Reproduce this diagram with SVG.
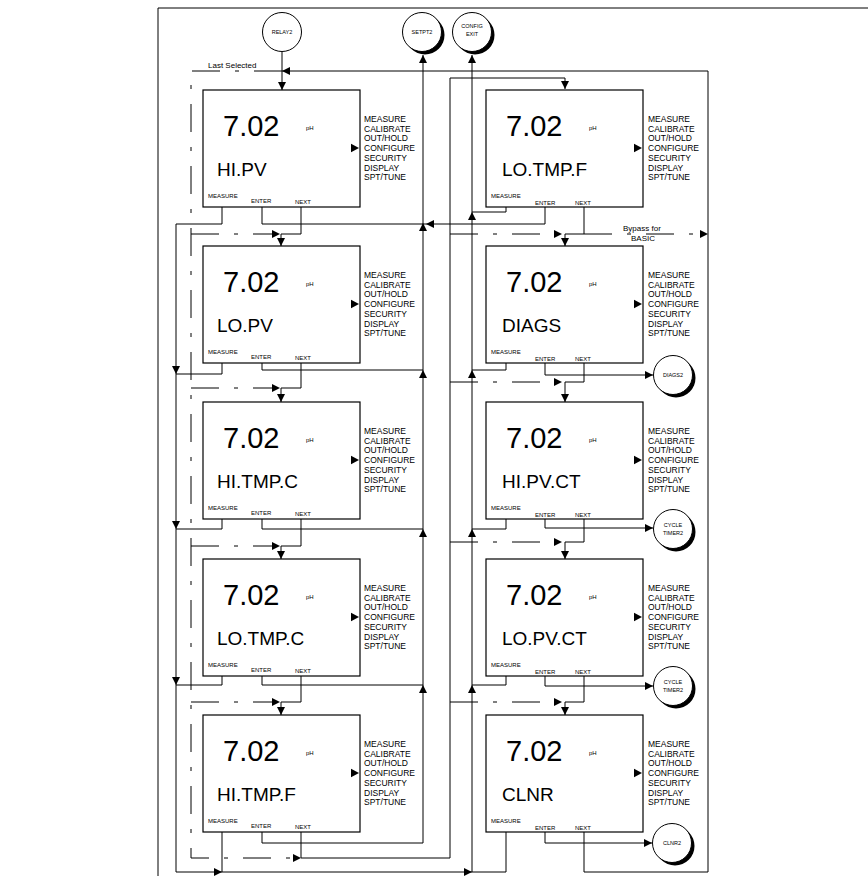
<svg xmlns="http://www.w3.org/2000/svg" xmlns:xlink="http://www.w3.org/1999/xlink" width="868" height="876" viewBox="0 0 868 876">
<style>
text{font-family:"Liberation Sans",Arial,sans-serif;fill:#000}
.box{fill:#fff;stroke:#000;stroke-width:1.2}
.big{font-size:29px}
.lbl{font-size:19px}
.ph{font-size:6px}
.menu{font-size:8.5px}
.key{font-size:6px}
.cl{font-size:5.5px;text-anchor:middle}
.ln{fill:none;stroke:#000;stroke-width:1}
.dd{fill:none;stroke:#000;stroke-width:1;stroke-dasharray:28 15 4 15}
.circ{fill:#fff;stroke:#000;stroke-width:1}
.sh{fill:#000}
.note{font-size:8px}
</style>
<defs>
<path id="ah" d="M0,0 L-8,-4 L-8,4 Z" fill="#000"/>
<path id="tri" d="M0,-4.3 L8,0 L0,4.3 Z" fill="#000"/>
</defs>

<g id="frame">
<line class="ln" x1="158" y1="8" x2="868" y2="8"/>
<line class="ln" x1="158" y1="8" x2="158" y2="876"/>
</g>

<g id="connectors">
<path class="ln" d="M708,872 V71 H282"/>
<use xlink:href="#ah" transform="translate(282,71) rotate(180)"/>
<path class="dd" d="M282,71 H191 V858 H293"/>
<text class="note" x="208" y="68">Last Selected</text>
<path class="ln" d="M282,52 V90"/>
<use xlink:href="#ah" transform="translate(282,90) rotate(90)"/>

<path class="ln" d="M222,207 V224 H176 V872 H472"/>
<path class="ln" d="M222,363 V374 H176"/>
<path class="ln" d="M222,519 V529 H176"/>
<path class="ln" d="M222,676 V685 H176"/>
<path class="ln" d="M222,832 V872"/>
<use xlink:href="#ah" transform="translate(176,374) rotate(90)"/>
<use xlink:href="#ah" transform="translate(176,529) rotate(90)"/>
<use xlink:href="#ah" transform="translate(176,685) rotate(90)"/>
<use xlink:href="#ah" transform="translate(222,872)"/>
<use xlink:href="#ah" transform="translate(472,872)"/>

<path class="ln" d="M262,207 V224 H545 V207"/>
<path class="ln" d="M262,363 V370 H423"/>
<path class="ln" d="M262,519 V529 H423"/>
<path class="ln" d="M262,676 V685 H423"/>
<path class="ln" d="M262,832 V843 H423 V55"/>
<use xlink:href="#ah" transform="translate(423,223) rotate(-90)"/>
<use xlink:href="#ah" transform="translate(426,224) rotate(180)"/>
<use xlink:href="#ah" transform="translate(423,370) rotate(-90)"/>
<use xlink:href="#ah" transform="translate(423,529) rotate(-90)"/>
<use xlink:href="#ah" transform="translate(423,685) rotate(-90)"/>
<use xlink:href="#ah" transform="translate(423,55) rotate(-90)"/>

<path class="ln" d="M301,207 V234 H281 V246"/>
<path class="ln" d="M301,363 V388 H281 V402"/>
<path class="ln" d="M301,519 V546 H281 V559"/>
<path class="ln" d="M301,676 V702 H281 V715"/>
<path class="ln" d="M301,832 V858 H450 V78 H565 V89"/>
<use xlink:href="#ah" transform="translate(281,246) rotate(90)"/>
<use xlink:href="#ah" transform="translate(281,402) rotate(90)"/>
<use xlink:href="#ah" transform="translate(281,559) rotate(90)"/>
<use xlink:href="#ah" transform="translate(281,715) rotate(90)"/>
<use xlink:href="#ah" transform="translate(565,89) rotate(90)"/>
<use xlink:href="#ah" transform="translate(301,858)"/>
<path class="dd" d="M191,234 H273"/>
<path class="dd" d="M191,388 H273"/>
<path class="dd" d="M191,546 H273"/>
<path class="dd" d="M191,702 H273"/>
<use xlink:href="#ah" transform="translate(280,234)"/>
<use xlink:href="#ah" transform="translate(280,388)"/>
<use xlink:href="#ah" transform="translate(280,546)"/>
<use xlink:href="#ah" transform="translate(280,702)"/>

<path class="ln" d="M506,207 V212 H472"/>
<path class="ln" d="M506,363 V370 H472"/>
<path class="ln" d="M506,519 V529 H472"/>
<path class="ln" d="M506,676 V685 H472"/>
<path class="ln" d="M506,832 V872 H472 V55"/>
<use xlink:href="#ah" transform="translate(472,212) rotate(-90)"/>
<use xlink:href="#ah" transform="translate(472,370) rotate(-90)"/>
<use xlink:href="#ah" transform="translate(472,529) rotate(-90)"/>
<use xlink:href="#ah" transform="translate(472,685) rotate(-90)"/>
<use xlink:href="#ah" transform="translate(472,55) rotate(-90)"/>

<path class="ln" d="M545,363 V375 H653"/>
<path class="ln" d="M545,519 V528 H653"/>
<path class="ln" d="M545,676 V686 H653"/>
<path class="ln" d="M545,832 V843 H652"/>
<use xlink:href="#ah" transform="translate(653,375)"/>
<use xlink:href="#ah" transform="translate(653,528)"/>
<use xlink:href="#ah" transform="translate(653,686)"/>
<use xlink:href="#ah" transform="translate(652,843)"/>

<path class="ln" d="M584,207 V234 H565 V246"/>
<path class="ln" d="M584,363 V382 H565 V402"/>
<path class="ln" d="M584,519 V542 H565 V559"/>
<path class="ln" d="M584,676 V702 H565 V715"/>
<path class="ln" d="M584,832 V872 H708"/>
<use xlink:href="#ah" transform="translate(565,246) rotate(90)"/>
<use xlink:href="#ah" transform="translate(565,402) rotate(90)"/>
<use xlink:href="#ah" transform="translate(565,559) rotate(90)"/>
<use xlink:href="#ah" transform="translate(565,715) rotate(90)"/>
<path class="dd" d="M450,234 H555"/>
<path class="dd" d="M450,382 H555"/>
<path class="dd" d="M450,542 H555"/>
<path class="dd" d="M450,702 H555"/>
<use xlink:href="#ah" transform="translate(562,234)"/>
<use xlink:href="#ah" transform="translate(562,382)"/>
<use xlink:href="#ah" transform="translate(562,542)"/>
<use xlink:href="#ah" transform="translate(562,702)"/>
<path class="dd" d="M584,234 H700"/>
<use xlink:href="#ah" transform="translate(708,234)"/>
<text class="note" x="623" y="231">Bypass for</text>
<text class="note" x="631" y="241">BASIC</text>
</g>

<g id="relay2">
<circle class="circ" cx="282" cy="32" r="19.5"/>
<text class="cl" x="282" y="34">RELAY2</text>
</g>
<g id="setpt2">
<circle class="sh" cx="425" cy="35" r="19.5"/>
<circle class="circ" cx="422" cy="32" r="19.5"/>
<text class="cl" x="422" y="34">SETPT2</text>
</g>
<g id="config-exit">
<circle class="sh" cx="475" cy="35" r="19.5"/>
<circle class="circ" cx="472" cy="32" r="19.5"/>
<text class="cl" x="472" y="28">CONFIG</text>
<text class="cl" x="472" y="36">EXIT</text>
</g>
<g id="diags2">
<circle class="sh" cx="676" cy="378" r="19.5"/>
<circle class="circ" cx="673" cy="375" r="19.5"/>
<text class="cl" x="673" y="377">DIAGS2</text>
</g>
<g id="cycle-timer2-a">
<circle class="sh" cx="676" cy="532" r="19.5"/>
<circle class="circ" cx="673" cy="529" r="19.5"/>
<text class="cl" x="673" y="527">CYCLE</text>
<text class="cl" x="673" y="535">TIMER2</text>
</g>
<g id="cycle-timer2-b">
<circle class="sh" cx="676" cy="689" r="19.5"/>
<circle class="circ" cx="673" cy="686" r="19.5"/>
<text class="cl" x="673" y="684">CYCLE</text>
<text class="cl" x="673" y="692">TIMER2</text>
</g>
<g id="clnr2">
<circle class="sh" cx="675" cy="846" r="19.5"/>
<circle class="circ" cx="672" cy="843" r="19.5"/>
<text class="cl" x="672" y="845">CLNR2</text>
</g>

<g id="hi-pv" transform="translate(203,90)">
<rect class="box" width="157" height="117"/>
<text class="big" x="20" y="46">7.02</text><text class="ph" x="103" y="40">pH</text>
<text class="lbl" x="14" y="86">HI.PV</text>
<use xlink:href="#tri" transform="translate(148,58)"/>
<text class="menu" x="161" y="32">MEASURE<tspan x="161" dy="9.7">CALIBRATE</tspan><tspan x="161" dy="9.7">OUT/HOLD</tspan><tspan x="161" dy="9.7">CONFIGURE</tspan><tspan x="161" dy="9.7">SECURITY</tspan><tspan x="161" dy="9.7">DISPLAY</tspan><tspan x="161" dy="9.7">SPT/TUNE</tspan></text>
<text class="key" x="5" y="108">MEASURE</text><text class="key" x="48" y="113">ENTER</text><text class="key" x="92" y="114">NEXT</text>
</g>
<g id="lo-pv" transform="translate(203,246)">
<rect class="box" width="157" height="117"/>
<text class="big" x="20" y="46">7.02</text><text class="ph" x="103" y="40">pH</text>
<text class="lbl" x="14" y="86">LO.PV</text>
<use xlink:href="#tri" transform="translate(148,58)"/>
<text class="menu" x="161" y="32">MEASURE<tspan x="161" dy="9.7">CALIBRATE</tspan><tspan x="161" dy="9.7">OUT/HOLD</tspan><tspan x="161" dy="9.7">CONFIGURE</tspan><tspan x="161" dy="9.7">SECURITY</tspan><tspan x="161" dy="9.7">DISPLAY</tspan><tspan x="161" dy="9.7">SPT/TUNE</tspan></text>
<text class="key" x="5" y="108">MEASURE</text><text class="key" x="48" y="113">ENTER</text><text class="key" x="92" y="114">NEXT</text>
</g>
<g id="hi-tmp-c" transform="translate(203,402)">
<rect class="box" width="157" height="117"/>
<text class="big" x="20" y="46">7.02</text><text class="ph" x="103" y="40">pH</text>
<text class="lbl" x="14" y="86">HI.TMP.C</text>
<use xlink:href="#tri" transform="translate(148,58)"/>
<text class="menu" x="161" y="32">MEASURE<tspan x="161" dy="9.7">CALIBRATE</tspan><tspan x="161" dy="9.7">OUT/HOLD</tspan><tspan x="161" dy="9.7">CONFIGURE</tspan><tspan x="161" dy="9.7">SECURITY</tspan><tspan x="161" dy="9.7">DISPLAY</tspan><tspan x="161" dy="9.7">SPT/TUNE</tspan></text>
<text class="key" x="5" y="108">MEASURE</text><text class="key" x="48" y="113">ENTER</text><text class="key" x="92" y="114">NEXT</text>
</g>
<g id="lo-tmp-c" transform="translate(203,559)">
<rect class="box" width="157" height="117"/>
<text class="big" x="20" y="46">7.02</text><text class="ph" x="103" y="40">pH</text>
<text class="lbl" x="14" y="86">LO.TMP.C</text>
<use xlink:href="#tri" transform="translate(148,58)"/>
<text class="menu" x="161" y="32">MEASURE<tspan x="161" dy="9.7">CALIBRATE</tspan><tspan x="161" dy="9.7">OUT/HOLD</tspan><tspan x="161" dy="9.7">CONFIGURE</tspan><tspan x="161" dy="9.7">SECURITY</tspan><tspan x="161" dy="9.7">DISPLAY</tspan><tspan x="161" dy="9.7">SPT/TUNE</tspan></text>
<text class="key" x="5" y="108">MEASURE</text><text class="key" x="48" y="113">ENTER</text><text class="key" x="92" y="114">NEXT</text>
</g>
<g id="hi-tmp-f" transform="translate(203,715)">
<rect class="box" width="157" height="117"/>
<text class="big" x="20" y="46">7.02</text><text class="ph" x="103" y="40">pH</text>
<text class="lbl" x="14" y="86">HI.TMP.F</text>
<use xlink:href="#tri" transform="translate(148,58)"/>
<text class="menu" x="161" y="32">MEASURE<tspan x="161" dy="9.7">CALIBRATE</tspan><tspan x="161" dy="9.7">OUT/HOLD</tspan><tspan x="161" dy="9.7">CONFIGURE</tspan><tspan x="161" dy="9.7">SECURITY</tspan><tspan x="161" dy="9.7">DISPLAY</tspan><tspan x="161" dy="9.7">SPT/TUNE</tspan></text>
<text class="key" x="5" y="108">MEASURE</text><text class="key" x="48" y="113">ENTER</text><text class="key" x="92" y="114">NEXT</text>
</g>

<g id="lo-tmp-f" transform="translate(486,90)">
<rect class="box" width="157" height="117"/>
<text class="big" x="20" y="46">7.02</text><text class="ph" x="103" y="40">pH</text>
<text class="lbl" x="16" y="86">LO.TMP.F</text>
<use xlink:href="#tri" transform="translate(148,58)"/>
<text class="menu" x="162" y="32">MEASURE<tspan x="162" dy="9.7">CALIBRATE</tspan><tspan x="162" dy="9.7">OUT/HOLD</tspan><tspan x="162" dy="9.7">CONFIGURE</tspan><tspan x="162" dy="9.7">SECURITY</tspan><tspan x="162" dy="9.7">DISPLAY</tspan><tspan x="162" dy="9.7">SPT/TUNE</tspan></text>
<text class="key" x="5" y="108">MEASURE</text><text class="key" x="49" y="115">ENTER</text><text class="key" x="89" y="115">NEXT</text>
</g>
<g id="diags" transform="translate(486,246)">
<rect class="box" width="157" height="117"/>
<text class="big" x="20" y="46">7.02</text><text class="ph" x="103" y="40">pH</text>
<text class="lbl" x="16" y="86">DIAGS</text>
<use xlink:href="#tri" transform="translate(148,58)"/>
<text class="menu" x="162" y="32">MEASURE<tspan x="162" dy="9.7">CALIBRATE</tspan><tspan x="162" dy="9.7">OUT/HOLD</tspan><tspan x="162" dy="9.7">CONFIGURE</tspan><tspan x="162" dy="9.7">SECURITY</tspan><tspan x="162" dy="9.7">DISPLAY</tspan><tspan x="162" dy="9.7">SPT/TUNE</tspan></text>
<text class="key" x="5" y="108">MEASURE</text><text class="key" x="49" y="115">ENTER</text><text class="key" x="89" y="115">NEXT</text>
</g>
<g id="hi-pv-ct" transform="translate(486,402)">
<rect class="box" width="157" height="117"/>
<text class="big" x="20" y="46">7.02</text><text class="ph" x="103" y="40">pH</text>
<text class="lbl" x="16" y="86">HI.PV.CT</text>
<use xlink:href="#tri" transform="translate(148,58)"/>
<text class="menu" x="162" y="32">MEASURE<tspan x="162" dy="9.7">CALIBRATE</tspan><tspan x="162" dy="9.7">OUT/HOLD</tspan><tspan x="162" dy="9.7">CONFIGURE</tspan><tspan x="162" dy="9.7">SECURITY</tspan><tspan x="162" dy="9.7">DISPLAY</tspan><tspan x="162" dy="9.7">SPT/TUNE</tspan></text>
<text class="key" x="5" y="108">MEASURE</text><text class="key" x="49" y="115">ENTER</text><text class="key" x="89" y="115">NEXT</text>
</g>
<g id="lo-pv-ct" transform="translate(486,559)">
<rect class="box" width="157" height="117"/>
<text class="big" x="20" y="46">7.02</text><text class="ph" x="103" y="40">pH</text>
<text class="lbl" x="16" y="86">LO.PV.CT</text>
<use xlink:href="#tri" transform="translate(148,58)"/>
<text class="menu" x="162" y="32">MEASURE<tspan x="162" dy="9.7">CALIBRATE</tspan><tspan x="162" dy="9.7">OUT/HOLD</tspan><tspan x="162" dy="9.7">CONFIGURE</tspan><tspan x="162" dy="9.7">SECURITY</tspan><tspan x="162" dy="9.7">DISPLAY</tspan><tspan x="162" dy="9.7">SPT/TUNE</tspan></text>
<text class="key" x="5" y="108">MEASURE</text><text class="key" x="49" y="115">ENTER</text><text class="key" x="89" y="115">NEXT</text>
</g>
<g id="clnr" transform="translate(486,715)">
<rect class="box" width="157" height="117"/>
<text class="big" x="20" y="46">7.02</text><text class="ph" x="103" y="40">pH</text>
<text class="lbl" x="16" y="86">CLNR</text>
<use xlink:href="#tri" transform="translate(148,58)"/>
<text class="menu" x="162" y="32">MEASURE<tspan x="162" dy="9.7">CALIBRATE</tspan><tspan x="162" dy="9.7">OUT/HOLD</tspan><tspan x="162" dy="9.7">CONFIGURE</tspan><tspan x="162" dy="9.7">SECURITY</tspan><tspan x="162" dy="9.7">DISPLAY</tspan><tspan x="162" dy="9.7">SPT/TUNE</tspan></text>
<text class="key" x="5" y="108">MEASURE</text><text class="key" x="49" y="115">ENTER</text><text class="key" x="89" y="115">NEXT</text>
</g>
</svg>
